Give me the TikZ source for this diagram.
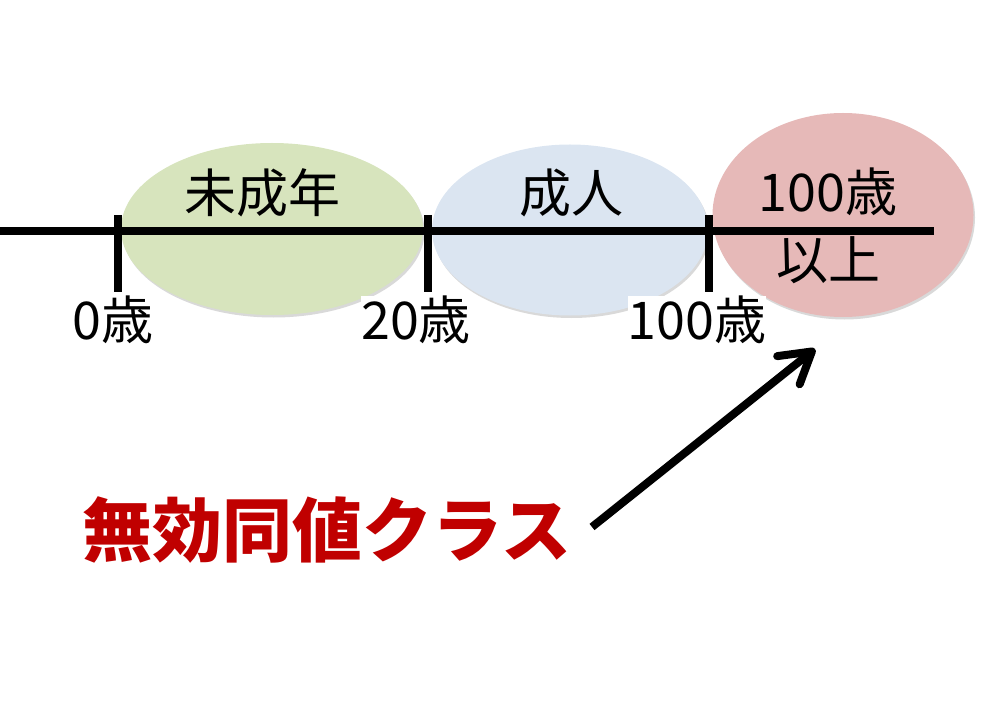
\documentclass[tikz,border=0pt]{standalone}
\usepackage{fontspec}
\setmainfont{Noto Sans CJK JP}
\usepackage{tikz}
\usetikzlibrary{arrows.meta,shadows,shapes.geometric,positioning}
\definecolor{minor}{HTML}{D7E4BD}
\definecolor{adult}{HTML}{DBE5F1}
\definecolor{old}{HTML}{E6B9B8}
\definecolor{invalid}{HTML}{C00000}
\tikzset{
    %Define style for the age ranges
    agerange/.style={
           ellipse,
           draw=none,
           inner sep=0pt,
           drop shadow={shadow xshift=1.5pt,shadow yshift=-2.5pt,opacity=.25,fill=black!60}},
    rangetext/.style={
           inner sep=0pt,
           align=center,
           font=\fontsize{52}{68}\selectfont},
    %Define style for the tick labels
    age/.style={
           fill=white,
           inner sep=0pt,
           font=\fontsize{52}{60}\selectfont},
    % Define line styles
    axis/.style={
           line width=8pt},
    pil/.style={
           -{Straight Barb[length=30pt,width=36pt,line cap=round,line join=round]},
           line width=8pt}
}

\begin{document}
\begin{tikzpicture}[x=1pt,y=-1pt]
\useasboundingbox (0,0) rectangle (984,708);
% age ranges
\node[agerange,fill=minor,minimum width=302pt,minimum height=172pt](1) at (272,229){};
\node[agerange,fill=adult,minimum width=276pt,minimum height=171pt](2) at (570,230){};
\node[agerange,fill=old,minimum width=261pt,minimum height=204pt](3) at (843,215){};
% axis with ticks
\coordinate (s) at (0,231);
\coordinate (e) at (934,231);
\draw[axis] (s) -- (e);
\foreach \n/\x in {0/118,20/428,100/709}
    \draw[axis] (\x,215) coordinate (t\n) -- (\x,292) coordinate (b\n);
\node[rangetext](4) at (262,193){未成年};
\node[rangetext](5) at (571,193){成人};
\node[rangetext](6) at (828,226){100歳\\以上};
\node[age](7) at (113,320){0歳};
\node[age](8) at (416,320){20歳};
\node[age](9) at (697,320){100歳};
% invalid class
\node[inner sep=0pt,text=invalid,font=\fontsize{70}{80}\selectfont\bfseries](10) at (327,530){無効同値クラス};
\coordinate (tail) at (592,527);
\coordinate (tip) at (815,349);
\draw[pil] (tail) -- (tip);
\end{tikzpicture}
\end{document}
